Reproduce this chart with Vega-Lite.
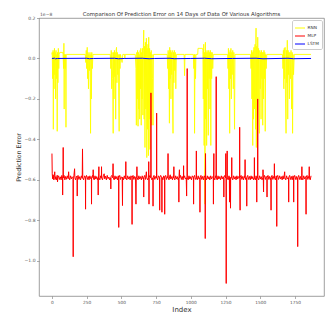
{
"$schema": "https://vega.github.io/schema/vega-lite/v6.json",
"width": 285, "height": 278, "autosize": "none",
"padding": {"left": 39, "top": 18, "right": 4, "bottom": 22},
"background": "white",
"config": {"font": "DejaVu Sans", "view": {"stroke": "#888", "strokeWidth": 0.8}},
"title": {"text": "Comparison Of Prediction Error on 14 Days of Data Of Various Algorithms", "fontSize": 5.4, "fontWeight": "normal", "color": "#333", "offset": -5, "anchor": "middle"},
"datasets": {
"rnn": [{"i":0,"v":0.02},{"i":2,"v":0.03},{"i":5,"v":-0.1},{"i":8,"v":0.04},{"i":10,"v":-0.35},{"i":12,"v":0.03},{"i":15,"v":-0.15},{"i":18,"v":0.05},{"i":20,"v":-0.08},{"i":23,"v":0.03},{"i":26,"v":-0.2},{"i":29,"v":0.04},{"i":32,"v":-0.1},{"i":35,"v":0.02},{"i":38,"v":-0.36},{"i":40,"v":0.03},{"i":43,"v":-0.12},{"i":46,"v":0.05},{"i":49,"v":-0.05},{"i":52,"v":0.02},{"i":56,"v":0.03},{"i":78,"v":0.03},{"i":80,"v":0.02},{"i":84,"v":-0.05},{"i":86,"v":0.075},{"i":88,"v":-0.25},{"i":90,"v":0.02},{"i":95,"v":-0.05},{"i":98,"v":0.02},{"i":101,"v":-0.34},{"i":103,"v":0.02},
{"i":240,"v":0.02},{"i":244,"v":-0.02},{"i":247,"v":0.04},{"i":250,"v":-0.05},{"i":254,"v":0.055},{"i":257,"v":-0.1},{"i":260,"v":0.03},{"i":263,"v":-0.15},{"i":266,"v":0.02},{"i":270,"v":-0.06},{"i":274,"v":0.03},{"i":278,"v":-0.37},{"i":281,"v":0.02},{"i":284,"v":-0.2},{"i":287,"v":0.03},{"i":291,"v":-0.05},{"i":295,"v":0.02},
{"i":420,"v":0.02},{"i":424,"v":-0.05},{"i":427,"v":0.04},{"i":430,"v":-0.15},{"i":433,"v":0.03},{"i":437,"v":-0.1},{"i":441,"v":-0.37},{"i":444,"v":0.03},{"i":447,"v":-0.2},{"i":450,"v":0.04},{"i":453,"v":-0.09},{"i":456,"v":0.03},{"i":459,"v":-0.3},{"i":462,"v":0.04},{"i":465,"v":0.055},{"i":468,"v":-0.12},{"i":471,"v":0.03},{"i":474,"v":-0.08},{"i":478,"v":0.02},{"i":481,"v":-0.2},{"i":484,"v":-0.36},{"i":487,"v":0.02},{"i":490,"v":-0.05},{"i":494,"v":0.02},{"i":505,"v":-0.02},{"i":510,"v":0.02},{"i":523,"v":0.02},{"i":525,"v":0.0},{"i":527,"v":0.02},
{"i":600,"v":0.02},{"i":605,"v":-0.05},{"i":608,"v":-0.33},{"i":611,"v":0.03},{"i":614,"v":-0.2},{"i":617,"v":0.04},{"i":620,"v":-0.335},{"i":623,"v":0.03},{"i":626,"v":-0.25},{"i":629,"v":0.02},{"i":632,"v":-0.3},{"i":635,"v":0.04},{"i":638,"v":-0.15},{"i":640,"v":0.05},{"i":643,"v":-0.33},{"i":646,"v":0.03},{"i":649,"v":-0.2},{"i":652,"v":0.05},{"i":655,"v":-0.28},{"i":658,"v":0.04},{"i":661,"v":0.14},{"i":664,"v":-0.3},{"i":667,"v":0.06},{"i":670,"v":-0.44},{"i":673,"v":0.08},{"i":676,"v":-0.25},{"i":680,"v":0.1},{"i":683,"v":-0.49},{"i":686,"v":0.05},{"i":689,"v":-0.35},{"i":692,"v":0.07},{"i":695,"v":-0.48},{"i":697,"v":0.105},{"i":700,"v":-0.3},{"i":703,"v":0.05},{"i":706,"v":-0.45},{"i":709,"v":0.03},{"i":712,"v":-0.2},{"i":715,"v":0.04},{"i":718,"v":-0.33},{"i":721,"v":0.02},{"i":724,"v":-0.1},{"i":728,"v":-0.33},{"i":731,"v":0.02},
{"i":830,"v":0.02},{"i":834,"v":-0.05},{"i":837,"v":0.04},{"i":840,"v":-0.15},{"i":843,"v":0.03},{"i":846,"v":-0.32},{"i":848,"v":0.055},{"i":851,"v":-0.1},{"i":854,"v":0.04},{"i":857,"v":-0.2},{"i":860,"v":0.03},{"i":863,"v":-0.08},{"i":866,"v":0.04},{"i":869,"v":-0.25},{"i":872,"v":-0.37},{"i":875,"v":0.03},{"i":878,"v":-0.12},{"i":881,"v":0.04},{"i":884,"v":-0.06},{"i":888,"v":0.03},{"i":892,"v":-0.15},{"i":896,"v":0.02},
{"i":952,"v":0.02},{"i":955,"v":-0.085},{"i":958,"v":0.02},{"i":1018,"v":0.02},{"i":1022,"v":-0.05},{"i":1025,"v":0.02},{"i":1027,"v":-0.37},{"i":1030,"v":0.02},{"i":1034,"v":-0.1},{"i":1037,"v":0.02},{"i":1050,"v":0.02},{"i":1052,"v":0.05},{"i":1085,"v":0.05},
{"i":1087,"v":0.04},{"i":1090,"v":-0.2},{"i":1093,"v":0.07},{"i":1096,"v":-0.43},{"i":1099,"v":0.03},{"i":1102,"v":-0.72},{"i":1105,"v":0.08},{"i":1108,"v":-0.3},{"i":1111,"v":0.03},{"i":1114,"v":-0.43},{"i":1117,"v":0.04},{"i":1120,"v":-0.15},{"i":1123,"v":0.03},{"i":1126,"v":-0.38},{"i":1129,"v":0.04},{"i":1132,"v":-0.1},{"i":1135,"v":0.03},{"i":1138,"v":-0.25},{"i":1141,"v":0.04},{"i":1144,"v":-0.43},{"i":1147,"v":0.03},{"i":1150,"v":-0.1},{"i":1154,"v":0.03},{"i":1158,"v":-0.05},{"i":1162,"v":0.02},
{"i":1265,"v":0.02},{"i":1268,"v":-0.05},{"i":1271,"v":0.05},{"i":1274,"v":-0.15},{"i":1277,"v":0.03},{"i":1280,"v":-0.37},{"i":1283,"v":0.04},{"i":1286,"v":-0.1},{"i":1289,"v":0.05},{"i":1292,"v":-0.2},{"i":1295,"v":0.03},{"i":1298,"v":-0.08},{"i":1302,"v":0.04},{"i":1306,"v":-0.15},{"i":1310,"v":0.03},{"i":1315,"v":-0.35},{"i":1318,"v":0.02},
{"i":1430,"v":0.02},{"i":1434,"v":-0.05},{"i":1437,"v":0.04},{"i":1440,"v":-0.2},{"i":1443,"v":0.03},{"i":1446,"v":-0.43},{"i":1449,"v":0.04},{"i":1452,"v":-0.3},{"i":1455,"v":0.055},{"i":1458,"v":-0.25},{"i":1461,"v":0.04},{"i":1463,"v":0.07},{"i":1466,"v":-0.35},{"i":1468,"v":0.05},{"i":1470,"v":0.15},{"i":1472,"v":-0.44},{"i":1475,"v":0.06},{"i":1478,"v":-0.3},{"i":1482,"v":0.105},{"i":1485,"v":-0.2},{"i":1488,"v":0.05},{"i":1491,"v":-0.28},{"i":1494,"v":-0.37},{"i":1497,"v":0.04},{"i":1500,"v":-0.15},{"i":1503,"v":0.03},{"i":1506,"v":-0.3},{"i":1509,"v":0.04},{"i":1512,"v":-0.1},{"i":1515,"v":0.03},{"i":1518,"v":-0.33},{"i":1521,"v":0.03},{"i":1524,"v":-0.2},{"i":1527,"v":0.04},{"i":1530,"v":-0.1},{"i":1533,"v":0.03},{"i":1536,"v":-0.36},{"i":1539,"v":0.02},{"i":1543,"v":-0.05},{"i":1547,"v":0.02},
{"i":1660,"v":0.02},{"i":1664,"v":-0.05},{"i":1667,"v":0.04},{"i":1670,"v":-0.15},{"i":1673,"v":0.05},{"i":1676,"v":-0.1},{"i":1679,"v":0.055},{"i":1682,"v":-0.2},{"i":1686,"v":-0.37},{"i":1689,"v":0.04},{"i":1692,"v":-0.12},{"i":1695,"v":0.09},{"i":1698,"v":-0.3},{"i":1701,"v":0.04},{"i":1704,"v":-0.08},{"i":1707,"v":0.03},{"i":1710,"v":-0.2},{"i":1714,"v":0.03},{"i":1718,"v":-0.1},{"i":1722,"v":0.04},{"i":1726,"v":-0.25},{"i":1730,"v":0.03},{"i":1733,"v":-0.37},{"i":1736,"v":0.02},{"i":1740,"v":-0.08},{"i":1745,"v":0.02},{"i":1866,"v":0.02}],
"mlp": [{"i":0,"v":-0.47},{"i":2,"v":-0.57},{"i":5,"v":-0.595},{"i":9,"v":-0.575},{"i":13,"v":-0.6},{"i":17,"v":-0.58},{"i":20,"v":-0.56},{"i":23,"v":-0.598},{"i":28,"v":-0.584},{"i":33,"v":-0.6},{"i":38,"v":-0.577},{"i":40,"v":-0.61},{"i":43,"v":-0.59},{"i":48,"v":-0.58},{"i":54,"v":-0.598},{"i":60,"v":-0.585},{"i":66,"v":-0.6},{"i":71,"v":-0.578},{"i":76,"v":-0.592},{"i":77,"v":-0.675},{"i":78,"v":-0.588},{"i":80,"v":-0.585},{"i":81,"v":-0.44},{"i":82,"v":-0.59},{"i":87,"v":-0.578},{"i":93,"v":-0.6},{"i":99,"v":-0.583},{"i":105,"v":-0.597},{"i":111,"v":-0.58},{"i":117,"v":-0.594},{"i":120,"v":-0.56},{"i":123,"v":-0.59},{"i":128,"v":-0.6},{"i":134,"v":-0.58},{"i":140,"v":-0.595},{"i":146,"v":-0.585},{"i":152,"v":-0.59},{"i":153,"v":-0.98},{"i":154,"v":-0.59},{"i":158,"v":-0.58},{"i":163,"v":-0.545},{"i":165,"v":-0.59},{"i":170,"v":-0.6},{"i":176,"v":-0.582},{"i":181,"v":-0.59},{"i":182,"v":-0.68},{"i":183,"v":-0.588},{"i":188,"v":-0.578},{"i":194,"v":-0.598},{"i":200,"v":-0.584},{"i":206,"v":-0.6},{"i":212,"v":-0.58},{"i":218,"v":-0.592},{"i":220,"v":-0.447},{"i":222,"v":-0.59},{"i":228,"v":-0.6},{"i":235,"v":-0.58},{"i":241,"v":-0.59},{"i":242,"v":-0.745},{"i":243,"v":-0.588},{"i":249,"v":-0.578},{"i":255,"v":-0.598},{"i":261,"v":-0.583},{"i":267,"v":-0.6},{"i":273,"v":-0.58},{"i":279,"v":-0.594},{"i":284,"v":-0.59},{"i":285,"v":-0.72},{"i":286,"v":-0.587},{"i":292,"v":-0.578},{"i":296,"v":-0.59},{"i":297,"v":-0.55},{"i":298,"v":-0.59},{"i":304,"v":-0.6},{"i":310,"v":-0.58},{"i":316,"v":-0.596},{"i":322,"v":-0.584},{"i":328,"v":-0.6},{"i":332,"v":-0.59},{"i":333,"v":-0.675},{"i":334,"v":-0.585},{"i":336,"v":-0.59},{"i":338,"v":-0.535},{"i":339,"v":-0.59},{"i":345,"v":-0.6},{"i":351,"v":-0.58},{"i":356,"v":-0.59},{"i":357,"v":-0.535},{"i":358,"v":-0.59},{"i":364,"v":-0.6},{"i":370,"v":-0.58},{"i":376,"v":-0.57},{"i":380,"v":-0.595},{"i":386,"v":-0.582},{"i":392,"v":-0.6},{"i":398,"v":-0.578},{"i":404,"v":-0.594},{"i":410,"v":-0.586},{"i":416,"v":-0.6},{"i":423,"v":-0.59},{"i":424,"v":-0.645},{"i":425,"v":-0.585},{"i":431,"v":-0.578},{"i":438,"v":-0.59},{"i":440,"v":-0.52},{"i":442,"v":-0.59},{"i":448,"v":-0.6},{"i":454,"v":-0.58},{"i":460,"v":-0.596},{"i":466,"v":-0.584},{"i":472,"v":-0.6},{"i":478,"v":-0.58},{"i":480,"v":-0.59},{"i":481,"v":-0.835},{"i":482,"v":-0.588},{"i":488,"v":-0.578},{"i":494,"v":-0.598},{"i":500,"v":-0.585},{"i":506,"v":-0.59},{"i":508,"v":-0.727},{"i":509,"v":-0.587},{"i":515,"v":-0.6},{"i":521,"v":-0.58},{"i":527,"v":-0.595},{"i":531,"v":-0.59},{"i":532,"v":-0.51},{"i":533,"v":-0.59},{"i":539,"v":-0.6},{"i":545,"v":-0.58},{"i":551,"v":-0.596},{"i":557,"v":-0.584},{"i":563,"v":-0.6},{"i":569,"v":-0.58},{"i":576,"v":-0.59},{"i":577,"v":-0.82},{"i":578,"v":-0.586},{"i":584,"v":-0.578},{"i":590,"v":-0.598},{"i":596,"v":-0.583},{"i":602,"v":-0.59},{"i":605,"v":-0.72},{"i":607,"v":-0.588},{"i":610,"v":-0.59},{"i":612,"v":-0.535},{"i":614,"v":-0.59},{"i":620,"v":-0.6},{"i":626,"v":-0.58},{"i":632,"v":-0.596},{"i":638,"v":-0.584},{"i":644,"v":-0.6},{"i":650,"v":-0.58},{"i":656,"v":-0.595},{"i":660,"v":-0.59},{"i":661,"v":-0.685},{"i":662,"v":-0.587},{"i":668,"v":-0.578},{"i":674,"v":-0.598},{"i":680,"v":-0.56},{"i":683,"v":-0.59},{"i":689,"v":-0.6},{"i":696,"v":-0.59},{"i":697,"v":-0.51},{"i":698,"v":-0.59},{"i":699,"v":-0.72},{"i":700,"v":-0.588},{"i":706,"v":-0.578},{"i":712,"v":-0.59},{"i":713,"v":-0.17},{"i":714,"v":-0.59},{"i":720,"v":-0.6},{"i":727,"v":-0.59},{"i":728,"v":-0.73},{"i":729,"v":-0.586},{"i":735,"v":-0.578},{"i":741,"v":-0.598},{"i":747,"v":-0.583},{"i":753,"v":-0.59},{"i":754,"v":-0.27},{"i":755,"v":-0.59},{"i":761,"v":-0.6},{"i":767,"v":-0.58},{"i":775,"v":-0.59},{"i":776,"v":-0.75},{"i":777,"v":-0.587},{"i":783,"v":-0.578},{"i":791,"v":-0.59},{"i":792,"v":-0.76},{"i":793,"v":-0.588},{"i":799,"v":-0.6},{"i":805,"v":-0.58},{"i":811,"v":-0.59},{"i":812,"v":-0.77},{"i":813,"v":-0.586},{"i":819,"v":-0.578},{"i":825,"v":-0.598},{"i":831,"v":-0.583},{"i":835,"v":-0.59},{"i":836,"v":-0.47},{"i":837,"v":-0.59},{"i":843,"v":-0.6},{"i":849,"v":-0.58},{"i":852,"v":-0.575},{"i":856,"v":-0.596},{"i":862,"v":-0.584},{"i":868,"v":-0.6},{"i":874,"v":-0.58},{"i":877,"v":-0.59},{"i":878,"v":-0.535},{"i":879,"v":-0.59},{"i":885,"v":-0.6},{"i":891,"v":-0.58},{"i":897,"v":-0.596},{"i":903,"v":-0.584},{"i":909,"v":-0.6},{"i":913,"v":-0.59},{"i":914,"v":-0.71},{"i":915,"v":-0.587},{"i":918,"v":-0.55},{"i":920,"v":-0.59},{"i":926,"v":-0.578},{"i":932,"v":-0.598},{"i":938,"v":-0.583},{"i":944,"v":-0.6},{"i":947,"v":-0.59},{"i":948,"v":-0.53},{"i":949,"v":-0.59},{"i":955,"v":-0.58},{"i":961,"v":-0.596},{"i":967,"v":-0.59},{"i":970,"v":-0.68},{"i":971,"v":-0.59},{"i":973,"v":-0.59},{"i":974,"v":-0.05},{"i":975,"v":-0.59},{"i":981,"v":-0.6},{"i":987,"v":-0.58},{"i":993,"v":-0.596},{"i":999,"v":-0.584},{"i":1005,"v":-0.6},{"i":1011,"v":-0.58},{"i":1019,"v":-0.59},{"i":1020,"v":-0.72},{"i":1021,"v":-0.587},{"i":1027,"v":-0.578},{"i":1033,"v":-0.598},{"i":1039,"v":-0.59},{"i":1040,"v":-0.457},{"i":1041,"v":-0.59},{"i":1047,"v":-0.6},{"i":1053,"v":-0.58},{"i":1059,"v":-0.596},{"i":1065,"v":-0.59},{"i":1066,"v":-0.76},{"i":1067,"v":-0.586},{"i":1073,"v":-0.578},{"i":1079,"v":-0.598},{"i":1085,"v":-0.583},{"i":1091,"v":-0.6},{"i":1097,"v":-0.58},{"i":1103,"v":-0.59},{"i":1104,"v":-0.89},{"i":1105,"v":-0.59},{"i":1106,"v":-0.47},{"i":1107,"v":-0.59},{"i":1113,"v":-0.6},{"i":1119,"v":-0.58},{"i":1125,"v":-0.596},{"i":1131,"v":-0.584},{"i":1137,"v":-0.6},{"i":1143,"v":-0.58},{"i":1149,"v":-0.596},{"i":1155,"v":-0.584},{"i":1162,"v":-0.59},{"i":1163,"v":-0.72},{"i":1164,"v":-0.59},{"i":1166,"v":-0.47},{"i":1167,"v":-0.59},{"i":1173,"v":-0.6},{"i":1178,"v":-0.58},{"i":1182,"v":-0.59},{"i":1183,"v":-0.09},{"i":1184,"v":-0.59},{"i":1190,"v":-0.6},{"i":1196,"v":-0.58},{"i":1202,"v":-0.596},{"i":1208,"v":-0.584},{"i":1214,"v":-0.6},{"i":1220,"v":-0.58},{"i":1226,"v":-0.596},{"i":1232,"v":-0.584},{"i":1237,"v":-0.59},{"i":1238,"v":-0.685},{"i":1239,"v":-0.587},{"i":1245,"v":-0.578},{"i":1251,"v":-0.59},{"i":1252,"v":-0.47},{"i":1253,"v":-0.59},{"i":1254,"v":-0.59},{"i":1255,"v":-1.112},{"i":1256,"v":-0.59},{"i":1261,"v":-0.59},{"i":1262,"v":-0.457},{"i":1263,"v":-0.59},{"i":1269,"v":-0.6},{"i":1275,"v":-0.58},{"i":1278,"v":-0.59},{"i":1279,"v":-0.71},{"i":1280,"v":-0.587},{"i":1285,"v":-0.59},{"i":1286,"v":-0.74},{"i":1287,"v":-0.588},{"i":1294,"v":-0.59},{"i":1295,"v":-0.49},{"i":1296,"v":-0.59},{"i":1302,"v":-0.6},{"i":1308,"v":-0.58},{"i":1314,"v":-0.596},{"i":1320,"v":-0.584},{"i":1326,"v":-0.6},{"i":1332,"v":-0.58},{"i":1338,"v":-0.596},{"i":1344,"v":-0.584},{"i":1351,"v":-0.59},{"i":1352,"v":-0.34},{"i":1353,"v":-0.59},{"i":1355,"v":-0.75},{"i":1356,"v":-0.587},{"i":1362,"v":-0.578},{"i":1368,"v":-0.598},{"i":1374,"v":-0.583},{"i":1380,"v":-0.6},{"i":1386,"v":-0.58},{"i":1390,"v":-0.59},{"i":1391,"v":-0.5},{"i":1392,"v":-0.59},{"i":1398,"v":-0.6},{"i":1402,"v":-0.59},{"i":1403,"v":-0.73},{"i":1404,"v":-0.586},{"i":1410,"v":-0.578},{"i":1416,"v":-0.598},{"i":1422,"v":-0.583},{"i":1428,"v":-0.6},{"i":1434,"v":-0.58},{"i":1440,"v":-0.596},{"i":1446,"v":-0.584},{"i":1452,"v":-0.6},{"i":1457,"v":-0.59},{"i":1458,"v":-0.49},{"i":1459,"v":-0.59},{"i":1465,"v":-0.6},{"i":1470,"v":-0.58},{"i":1474,"v":-0.59},{"i":1475,"v":-0.71},{"i":1476,"v":-0.588},{"i":1481,"v":-0.59},{"i":1482,"v":-0.2},{"i":1483,"v":-0.59},{"i":1489,"v":-0.6},{"i":1495,"v":-0.58},{"i":1501,"v":-0.596},{"i":1507,"v":-0.584},{"i":1513,"v":-0.6},{"i":1519,"v":-0.59},{"i":1520,"v":-0.55},{"i":1522,"v":-0.59},{"i":1524,"v":-0.66},{"i":1525,"v":-0.588},{"i":1531,"v":-0.578},{"i":1537,"v":-0.598},{"i":1543,"v":-0.583},{"i":1548,"v":-0.59},{"i":1549,"v":-0.685},{"i":1550,"v":-0.587},{"i":1556,"v":-0.578},{"i":1562,"v":-0.598},{"i":1568,"v":-0.583},{"i":1574,"v":-0.6},{"i":1577,"v":-0.59},{"i":1578,"v":-0.75},{"i":1579,"v":-0.586},{"i":1585,"v":-0.578},{"i":1591,"v":-0.598},{"i":1597,"v":-0.583},{"i":1601,"v":-0.59},{"i":1602,"v":-0.52},{"i":1603,"v":-0.59},{"i":1609,"v":-0.6},{"i":1615,"v":-0.58},{"i":1618,"v":-0.59},{"i":1619,"v":-0.83},{"i":1620,"v":-0.587},{"i":1626,"v":-0.578},{"i":1632,"v":-0.598},{"i":1640,"v":-0.58},{"i":1646,"v":-0.596},{"i":1652,"v":-0.584},{"i":1658,"v":-0.6},{"i":1664,"v":-0.58},{"i":1670,"v":-0.596},{"i":1676,"v":-0.56},{"i":1678,"v":-0.59},{"i":1684,"v":-0.6},{"i":1690,"v":-0.58},{"i":1696,"v":-0.596},{"i":1704,"v":-0.59},{"i":1705,"v":-0.71},{"i":1706,"v":-0.587},{"i":1712,"v":-0.578},{"i":1718,"v":-0.598},{"i":1724,"v":-0.583},{"i":1730,"v":-0.6},{"i":1736,"v":-0.58},{"i":1740,"v":-0.59},{"i":1741,"v":-0.71},{"i":1742,"v":-0.587},{"i":1748,"v":-0.578},{"i":1754,"v":-0.598},{"i":1760,"v":-0.583},{"i":1766,"v":-0.6},{"i":1769,"v":-0.59},{"i":1770,"v":-0.93},{"i":1771,"v":-0.588},{"i":1777,"v":-0.578},{"i":1783,"v":-0.598},{"i":1789,"v":-0.583},{"i":1795,"v":-0.6},{"i":1799,"v":-0.59},{"i":1800,"v":-0.535},{"i":1801,"v":-0.59},{"i":1807,"v":-0.6},{"i":1813,"v":-0.58},{"i":1819,"v":-0.596},{"i":1825,"v":-0.584},{"i":1829,"v":-0.59},{"i":1830,"v":-0.77},{"i":1831,"v":-0.587},{"i":1837,"v":-0.578},{"i":1843,"v":-0.598},{"i":1849,"v":-0.583},{"i":1852,"v":-0.59},{"i":1853,"v":-0.535},{"i":1854,"v":-0.59},{"i":1860,"v":-0.6},{"i":1866,"v":-0.58}],
"lstm": [{"i":0,"v":0},{"i":20,"v":0.0012},{"i":25,"v":-0.0015},{"i":40,"v":0},{"i":250,"v":0.001},{"i":270,"v":-0.0012},{"i":300,"v":0},{"i":450,"v":0.001},{"i":480,"v":-0.0015},{"i":520,"v":0},{"i":650,"v":0.0012},{"i":700,"v":-0.0015},{"i":740,"v":0},{"i":850,"v":0.001},{"i":880,"v":-0.0012},{"i":1000,"v":0},{"i":1100,"v":0.0012},{"i":1150,"v":-0.0012},{"i":1300,"v":0},{"i":1470,"v":0.0012},{"i":1520,"v":-0.0015},{"i":1700,"v":0.001},{"i":1740,"v":-0.0012},{"i":1866,"v":0}]
},
"layer": [
  {"data": {"name": "rnn"}, "mark": {"type": "line", "strokeWidth": 0.9, "clip": true},
   "encoding": {
    "x": {"field": "i", "type": "quantitative", "scale": {"domain": [-93.3, 1959.3], "nice": false, "zero": false},
      "axis": {"values": [0,250,500,750,1000,1250,1500,1750], "format": "d", "title": "Index", "grid": false, "domain": false, "labelFontSize": 4.3, "labelColor": "#555", "tickSize": 2.5, "tickColor": "#777", "tickWidth": 0.6, "labelPadding": 1.5, "titleFontSize": 7, "titleFontWeight": "normal", "titleColor": "#333", "titlePadding": 1.5}},
    "y": {"field": "v", "type": "quantitative", "scale": {"domain": [-1.174, 0.2], "nice": false, "zero": false},
      "axis": {"values": [-1,-0.8,-0.6,-0.4,-0.2,0,0.2], "format": ".1f", "labelExpr": "replace(datum.label, '-', '−')", "title": "Prediction Error", "grid": false, "domain": false, "labelFontSize": 4.5, "labelColor": "#555", "tickSize": 2.5, "tickColor": "#777", "tickWidth": 0.6, "labelPadding": 1.5, "titleFontSize": 6.3, "titleFontWeight": "normal", "titleColor": "#333", "titlePadding": 3}},
    "color": {"datum": "RNN", "scale": {"domain": ["RNN","MLP","LSTM"], "range": ["#ffff00","#ff0000","#0000ff"]},
     "legend": {"title": null, "orient": "top-right", "offset": 2, "fillColor": "white", "strokeColor": "#ccc", "cornerRadius": 1.5, "padding": 2.5, "labelFontSize": 4.3, "labelColor": "#333", "symbolType": "stroke", "symbolSize": 100, "symbolStrokeWidth": 1, "rowPadding": -2, "labelOffset": 2}}}},
  {"data": {"name": "mlp"}, "mark": {"type": "line", "strokeWidth": 1, "clip": true}, "encoding": {"x": {"field": "i", "type": "quantitative"}, "y": {"field": "v", "type": "quantitative"}, "color": {"datum": "MLP"}}},
  {"data": {"name": "lstm"}, "mark": {"type": "line", "strokeWidth": 1, "clip": true}, "encoding": {"x": {"field": "i", "type": "quantitative"}, "y": {"field": "v", "type": "quantitative"}, "color": {"datum": "LSTM"}}},
  {"data": {"values": [{"note": "1e−8"}]}, "mark": {"type": "text", "align": "left", "baseline": "bottom", "dx": 1, "dy": -1, "fontSize": 4.5, "fill": "#555"},
   "encoding": {"x": {"datum": -93.3}, "y": {"datum": 0.2}, "text": {"field": "note"}}}
]
}
